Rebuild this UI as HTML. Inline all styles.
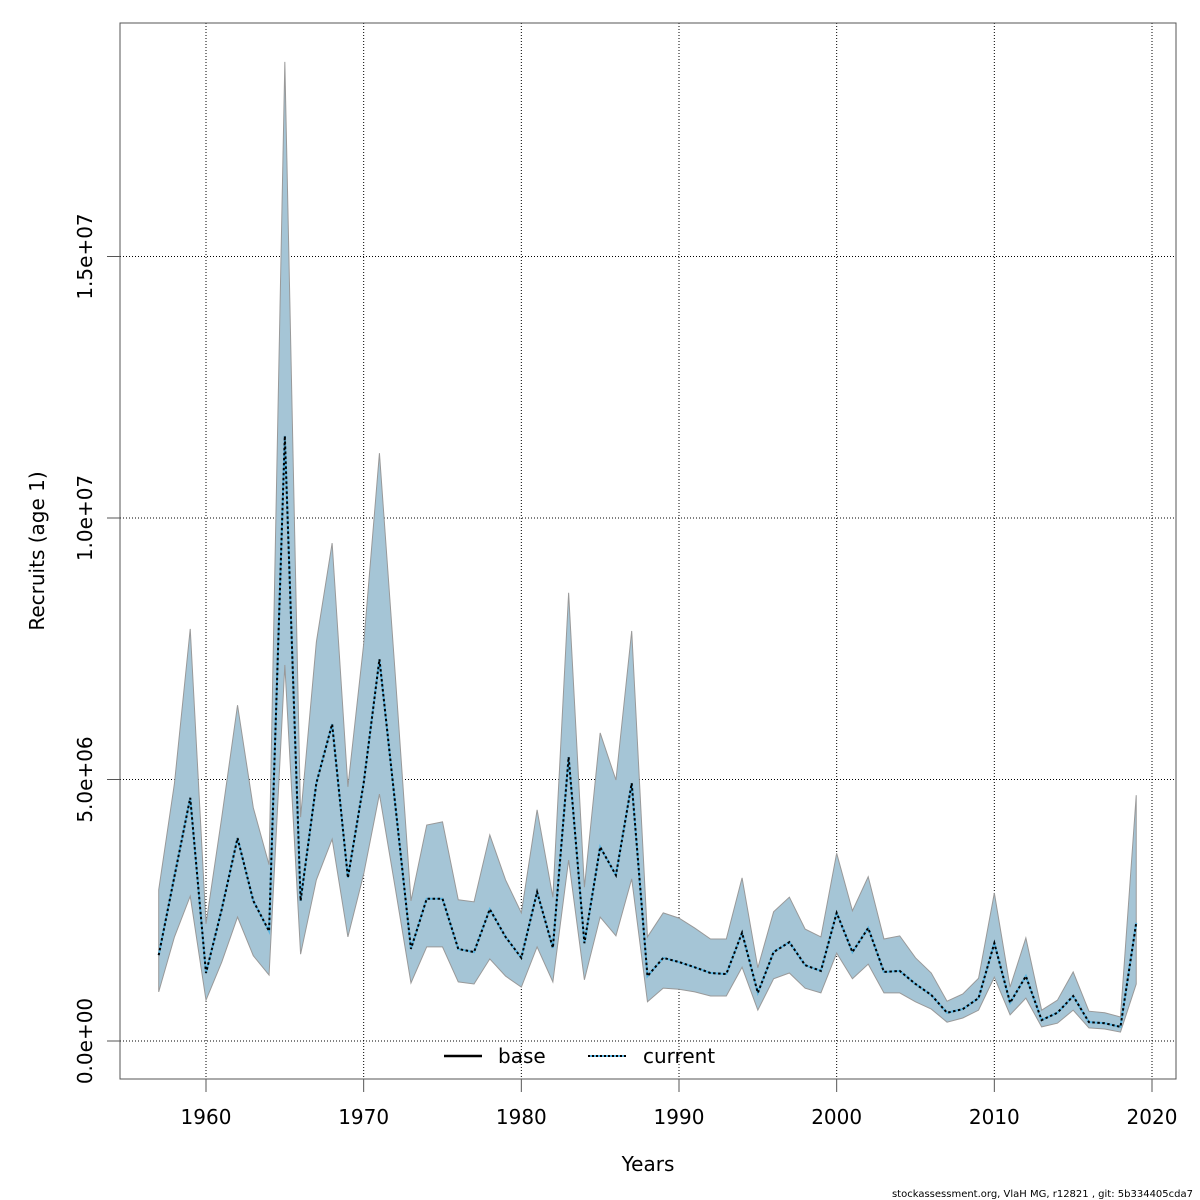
<!DOCTYPE html>
<html><head><meta charset="utf-8"><style>
html,body{margin:0;padding:0;background:#fff;}
svg{display:block;font-family:"DejaVu Sans","Liberation Sans",sans-serif;}
</style></head><body>
<svg id="chart" width="1200" height="1200" viewBox="0 0 1200 1200" xmlns="http://www.w3.org/2000/svg">
<rect width="1200" height="1200" fill="#fff"/>
<g id="grid"></g>
<g id="band"></g>
<g id="lines"></g>
<rect x="120" y="23" width="1056" height="1056" fill="none" stroke="#555" stroke-width="1"/>
<g id="axes"></g>
<text x="648" y="1171" font-size="20" text-anchor="middle">Years</text>
<text x="44" y="551" font-size="20" text-anchor="middle" transform="rotate(-90 44 551)">Recruits (age 1)</text>
<g>
<line x1="444" y1="1056" x2="482" y2="1056" stroke="#000" stroke-width="2.5"/>
<text x="498" y="1063" font-size="20">base</text>
<line x1="588" y1="1056" x2="626" y2="1056" stroke="#5ab4e0" stroke-width="2"/>
<line x1="588" y1="1056" x2="626" y2="1056" stroke="#000" stroke-width="2" stroke-dasharray="2,2"/>
<text x="643" y="1063" font-size="20">current</text>
</g>
<text x="1193" y="1197" font-size="10" text-anchor="end">stockassessment.org, VlaH  MG, r12821 , git: 5b334405cda7</text>
</svg>
<script>
const years = [];
for (let y = 1957; y <= 2019; y++) years.push(y);
const meanM = [1.64,3.15,4.65,1.30,2.52,3.88,2.68,2.10,11.57,2.68,4.93,6.06,3.12,4.93,7.30,4.53,1.76,2.72,2.72,1.76,1.70,2.52,1.99,1.59,2.85,1.78,5.43,1.87,3.71,3.17,4.93,1.24,1.59,1.51,1.41,1.30,1.28,2.07,0.92,1.70,1.89,1.45,1.34,2.45,1.70,2.16,1.32,1.34,1.09,0.88,0.54,0.61,0.82,1.87,0.73,1.24,0.40,0.54,0.86,0.36,0.34,0.27,2.26];
const upperM = [2.89,4.93,7.88,2.24,4.28,6.42,4.46,3.37,18.72,4.28,7.63,9.52,4.86,7.59,11.24,7.02,2.68,4.13,4.19,2.70,2.66,3.94,3.08,2.45,4.42,2.75,8.57,2.94,5.89,4.99,7.84,1.99,2.45,2.35,2.16,1.95,1.95,3.12,1.40,2.47,2.75,2.14,1.99,3.59,2.49,3.14,1.95,2.01,1.59,1.30,0.76,0.90,1.20,2.83,1.03,1.97,0.59,0.78,1.32,0.57,0.54,0.46,4.70];
const lowerM = [0.94,1.99,2.77,0.78,1.51,2.37,1.63,1.26,7.19,1.66,3.08,3.86,1.99,3.19,4.72,2.93,1.11,1.80,1.80,1.13,1.09,1.57,1.24,1.03,1.80,1.13,3.46,1.17,2.37,2.01,3.10,0.75,1.01,0.99,0.94,0.86,0.86,1.41,0.59,1.19,1.30,1.01,0.92,1.68,1.19,1.47,0.92,0.92,0.75,0.61,0.36,0.44,0.59,1.22,0.50,0.82,0.27,0.34,0.59,0.25,0.23,0.17,1.09];
const xTicks = [1960,1970,1980,1990,2000,2010,2020];
const yTicks = [0,5e6,1e7,1.5e7];
const yTickLabels = ["0.0e+00","5.0e+06","1.0e+07","1.5e+07"];

const NS = "http://www.w3.org/2000/svg";
const xs = yr => 206 + (yr - 1960) * (946 / 60);
const ys = v => 1041 - v * (523 / 1e7);
function mk(tag, attrs, parent) {
  const e = document.createElementNS(NS, tag);
  for (const k in attrs) e.setAttribute(k, attrs[k]);
  parent.appendChild(e);
  return e;
}
const grid = document.getElementById('grid');
const axes = document.getElementById('axes');
xTicks.forEach(t => {
  const g = mk('line', {x1: xs(t), x2: xs(t), y1: 23, y2: 1079, stroke: '#000', 'stroke-width': 1, 'stroke-dasharray': '1,2'}, grid);
  
  
  const tk = mk('line', {x1: xs(t), x2: xs(t), y1: 1079, y2: 1092, stroke: '#555', 'stroke-width': 1}, axes);
  
  
  const lb = mk('text', {x: xs(t), y: 1124, 'font-size': 20, 'text-anchor': 'middle'}, axes);
  lb.textContent = t;
  
  
});
yTicks.forEach((t, i) => {
  const g = mk('line', {x1: 120, x2: 1176, y1: ys(t), y2: ys(t), stroke: '#000', 'stroke-width': 1, 'stroke-dasharray': '1,2'}, grid);
  
  
  const tk = mk('line', {x1: 107, x2: 120, y1: ys(t), y2: ys(t), stroke: '#555', 'stroke-width': 1}, axes);
  
  
  const lb = mk('text', {x: 92, y: ys(t), 'font-size': 20, 'text-anchor': 'middle', transform: `rotate(-90 92 ${ys(t)})`}, axes);
  lb.textContent = yTickLabels[i];
  
  
});
const band = document.getElementById('band');
let pts = years.map((y, i) => `${xs(y)},${ys(upperM[i] * 1e6)}`);
for (let i = years.length - 1; i >= 0; i--) pts.push(`${xs(years[i])},${ys(lowerM[i] * 1e6)}`);
const poly = mk('polygon', {points: pts.join(' '), fill: '#a5c5d6', stroke: '#999', 'stroke-width': 1}, band);


const lines = document.getElementById('lines');
const mp = years.map((y, i) => `${xs(y)},${ys(meanM[i] * 1e6)}`).join(' ');
const l1 = mk('polyline', {points: mp, fill: 'none', stroke: '#5ab4e0', 'stroke-width': 2}, lines);


const l2 = mk('polyline', {points: mp, fill: 'none', stroke: '#000', 'stroke-width': 2, 'stroke-dasharray': '2.5,2.5'}, lines);


</script>
</body></html>
